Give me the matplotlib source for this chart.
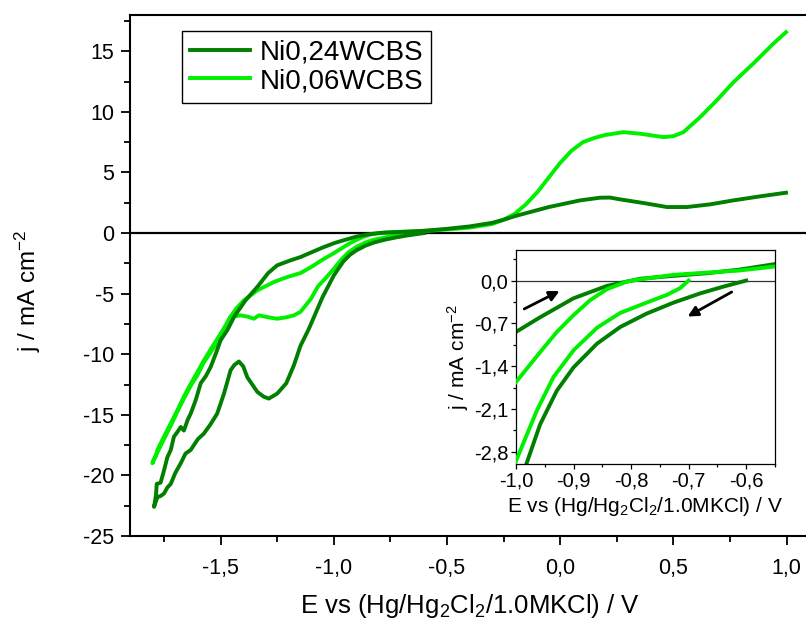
import matplotlib
matplotlib.use("Agg")
import matplotlib.pyplot as plt

plt.rcParams['font.family'] = ['Liberation Sans', 'DejaVu Sans']
plt.rcParams['mathtext.fontset'] = 'custom'
plt.rcParams['mathtext.rm'] = 'Liberation Sans'
plt.rcParams['mathtext.it'] = 'Liberation Sans'
plt.rcParams['axes.unicode_minus'] = False

# Ni0,24WCBS : cathodic scan from -0.6 V to -1.8 V, then back to +1.0 V
e_024 = [-0.60, -0.64, -0.68, -0.726, -0.773, -0.819, -0.859, -0.90, -0.929, -0.958, -0.982,
         -1.00, -1.05, -1.11, -1.147, -1.176, -1.21, -1.25, -1.287, -1.31, -1.338, -1.36,
         -1.382, -1.40, -1.419, -1.44, -1.456, -1.485, -1.515, -1.545, -1.574, -1.60, -1.632,
         -1.655, -1.676, -1.70, -1.72, -1.735, -1.75, -1.765, -1.779, -1.794,
         -1.785, -1.782, -1.765, -1.75, -1.735, -1.72, -1.706, -1.69, -1.676, -1.662, -1.645,
         -1.632, -1.61, -1.588, -1.565, -1.544, -1.52, -1.50, -1.47, -1.44, -1.39, -1.338,
         -1.29, -1.25, -1.191, -1.147, -1.10, -1.05, -1.00, -0.958, -0.90, -0.842, -0.807,
         -0.784, -0.726, -0.668, -0.611, -0.55, -0.5, -0.4, -0.3, -0.25, -0.2, -0.13, -0.05,
         0.0, 0.088, 0.176, 0.22, 0.265, 0.368, 0.471, 0.559, 0.662, 0.765, 0.882, 0.997]
j_024 = [0.00, -0.10, -0.21, -0.36, -0.54, -0.76, -1.03, -1.42, -1.80, -2.35, -3.0,
         -3.5, -5.3, -7.9, -9.3, -10.9, -12.4, -13.25, -13.66, -13.5, -13.1, -12.5,
         -11.9, -11.0, -10.6, -10.9, -11.33, -13.25, -14.9, -15.8, -16.55, -17.0, -17.9,
         -18.2, -19.0, -19.8, -20.7, -21.0, -21.5, -21.7, -21.8, -22.6,
         -21.6, -20.7, -20.6, -19.6, -18.5, -17.9, -16.8, -16.4, -16.0, -16.3, -15.4,
         -14.9, -13.8, -12.4, -11.8, -11.06, -9.9, -8.85, -8.0, -6.9, -5.55, -4.45,
         -3.3, -2.66, -2.25, -1.98, -1.6, -1.2, -0.84, -0.60, -0.29, -0.087, -0.016,
         0.03, 0.077, 0.12, 0.18, 0.27, 0.35, 0.55, 0.85, 1.1, 1.4, 1.75, 2.15,
         2.35, 2.7, 2.92, 2.93, 2.78, 2.48, 2.15, 2.15, 2.37, 2.70, 3.03, 3.33]

# Ni0,06WCBS : cathodic scan from -0.7 V to -1.8 V, then back to +1.0 V
e_006 = [-0.70, -0.715, -0.738, -0.773, -0.819, -0.859, -0.90, -0.935, -0.964, -1.0, -1.035,
         -1.07, -1.1, -1.147, -1.176, -1.21, -1.25, -1.29, -1.331, -1.353, -1.38, -1.412,
         -1.456, -1.485, -1.515, -1.544, -1.575, -1.603, -1.632, -1.662, -1.69, -1.72, -1.75,
         -1.779, -1.79, -1.801,
         -1.795, -1.785, -1.779, -1.75, -1.72, -1.69, -1.662, -1.632, -1.603, -1.575, -1.544,
         -1.515, -1.485, -1.456, -1.43, -1.397, -1.338, -1.265, -1.206, -1.147, -1.10, -1.05,
         -1.00, -0.958, -0.929, -0.90, -0.871, -0.842, -0.807, -0.784, -0.726, -0.668, -0.611,
         -0.55, -0.5, -0.4, -0.3, -0.25, -0.2, -0.15, -0.1, -0.05, 0.0, 0.05, 0.1, 0.15,
         0.2, 0.279, 0.353, 0.456, 0.5, 0.544, 0.618, 0.691, 0.765, 0.853, 0.941, 0.997]
j_006 = [0.0, -0.125, -0.235, -0.36, -0.53, -0.77, -1.14, -1.58, -2.13, -2.95, -3.7,
         -4.4, -5.4, -6.5, -6.79, -6.95, -7.07, -6.95, -6.79, -7.07, -6.9, -6.79,
         -6.93, -8.1, -9.0, -9.85, -10.7, -11.75, -12.6, -13.65, -14.7, -15.9, -17.0,
         -18.1, -18.5, -19.0,
         -18.7, -18.35, -17.9, -16.8, -15.7, -14.6, -13.5, -12.45, -11.5, -10.55, -9.6,
         -8.75, -7.85, -6.9, -6.2, -5.55, -4.73, -4.04, -3.63, -3.3, -2.8, -2.2,
         -1.66, -1.17, -0.84, -0.565, -0.32, -0.14, -0.016, 0.02, 0.094, 0.13, 0.165,
         0.23, 0.3, 0.45, 0.75, 1.1, 1.6, 2.4, 3.4, 4.6, 5.8, 6.8, 7.5, 7.85,
         8.1, 8.33, 8.2, 7.92, 8.0, 8.33, 9.57, 10.95, 12.45, 14.0, 15.63, 16.58]

labels = ['Ni0,24WCBS', 'Ni0,06WCBS']
colors = ['#007f00', '#00f000']

x_major = [-1.5, -1.0, -0.5, 0.0, 0.5, 1.0]
x_minor = [-1.75, -1.25, -0.75, -0.25, 0.25, 0.75]
y_major = [-25, -20, -15, -10, -5, 0, 5, 10, 15]
y_minor = [-22.5, -17.5, -12.5, -7.5, -2.5, 2.5, 7.5, 12.5, 17.5]
xi_major = [-1.0, -0.9, -0.8, -0.7, -0.6]
xi_minor = [-0.95, -0.85, -0.75, -0.65, -0.55]
yi_major = [-2.8, -2.1, -1.4, -0.7, 0.0]
yi_minor = [-2.45, -1.75, -1.05, -0.35, 0.35]


def comma(v, nd):
    return ('{:.%df}' % nd).format(v).replace('.', ',')


fig = plt.figure(figsize=(8.06, 6.22), dpi=100)
ax = fig.add_axes([0.1613, 0.1383, 0.8428, 0.8376])

ax.axhline(0, color='black', lw=1.6, zorder=1)
ax.plot(e_024, j_024, color=colors[0], lw=2.8, label=labels[0], zorder=3)
ax.plot(e_006, j_006, color=colors[1], lw=2.8, label=labels[1], zorder=2)

ax.set_xlim(-1.9, 1.1)
ax.set_ylim(-25, 18)
ax.set_xticks(x_major)
ax.set_xticklabels([comma(v, 1) for v in x_major])
ax.set_xticks(x_minor, minor=True)
ax.set_yticks(y_major)
ax.set_yticklabels([str(v) for v in y_major])
ax.set_yticks(y_minor, minor=True)
ax.tick_params(which='major', direction='out', length=6.5, width=1.3, labelsize=15.5, pad=5)
ax.tick_params(axis='x', which='major', pad=9)
ax.tick_params(which='minor', direction='out', length=4, width=1.3)
for s in ax.spines.values():
    s.set_linewidth(1.5)
ax.set_xlabel(r'E vs (Hg/Hg$_2$Cl$_2$/1.0MKCl) / V', fontsize=18.5, labelpad=10)
ax.set_ylabel(r'j / mA cm$^{-2}$', fontsize=17.5)
ax.yaxis.set_label_coords(-0.128, 0.47)

ax.legend(loc='upper left', bbox_to_anchor=(0.2254, 0.950), bbox_transform=fig.transFigure,
          fontsize=20, frameon=True, fancybox=False, edgecolor='black', framealpha=1,
          handlelength=2.15, handletextpad=0.35, labelspacing=0.1, borderpad=0.3,
          borderaxespad=0)

# inset
ins = fig.add_axes([0.6402, 0.2540, 0.3213, 0.3441])
ins.axhline(0, color='#333333', lw=0.9, zorder=1)
ins.plot(e_024, j_024, color=colors[0], lw=2.8, zorder=2)
ins.plot(e_006, j_006, color=colors[1], lw=2.8, zorder=3)
ins.set_xlim(-1.0, -0.55)
ins.set_ylim(-3.0, 0.5)
ins.set_xticks(xi_major)
ins.set_xticklabels([comma(v, 1) for v in xi_major])
ins.set_xticks(xi_minor, minor=True)
ins.set_yticks(yi_major)
ins.set_yticklabels([comma(v, 1) for v in yi_major])
ins.set_yticks(yi_minor, minor=True)
ins.tick_params(which='major', direction='out', length=3.5, width=0.9, labelsize=14.5, pad=2)
ins.tick_params(which='minor', direction='out', length=2, width=0.9)
for s in ins.spines.values():
    s.set_linewidth(0.9)
ins.set_xlabel(r'E vs (Hg/Hg$_2$Cl$_2$/1.0MKCl) / V', fontsize=15, labelpad=3)
ins.set_ylabel(r'j / mA cm$^{-2}$', fontsize=15, labelpad=2)

ins.annotate('', xy=(-0.92, -0.15), xytext=(-0.99, -0.485),
             arrowprops=dict(arrowstyle='-|>', color='black', lw=2, mutation_scale=15))
ins.annotate('', xy=(-0.706, -0.61), xytext=(-0.621, -0.165),
             arrowprops=dict(arrowstyle='-|>', color='black', lw=2, mutation_scale=15))

fig.savefig('out.png', dpi=100)
